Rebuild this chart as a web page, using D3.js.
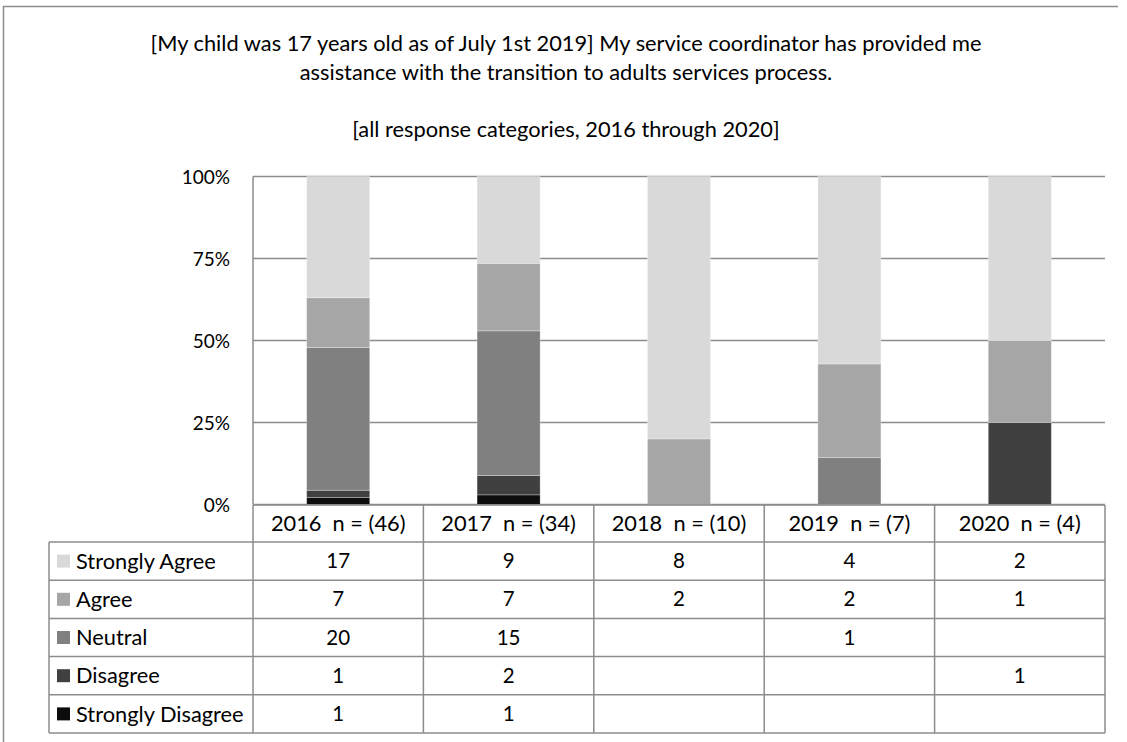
<!DOCTYPE html>
<html>
<head>
<meta charset="utf-8">
<script src="https://cdn.jsdelivr.net/npm/d3@7/dist/d3.min.js"></script>
<style>
  html, body { margin: 0; padding: 0; background: #fff; }
  svg text { font-family: Lato, "Noto Sans", sans-serif; fill: #000; white-space: pre; }
</style>
</head>
<body>
<svg id="chart" width="1127" height="742"></svg>
<script>
// Survey years and column headers
const years = ["2016", "2017", "2018", "2019", "2020"];
const headerLabels = ["2016  n = (46)", "2017  n = (34)", "2018  n = (10)", "2019  n = (7)", "2020  n = (4)"];

// Response categories, top of the stack first (table order)
const categories = ["Strongly Agree", "Agree", "Neutral", "Disagree", "Strongly Disagree"];
const categoryColors = ["#d9d9d9", "#a6a6a6", "#808080", "#404040", "#0d0d0d"];

// Response counts per year (null = no responses)
const stronglyAgree    = [17, 9, 8, 4, 2];
const agree            = [7, 7, 2, 2, 1];
const neutral          = [20, 15, null, 1, null];
const disagree         = [1, 2, null, null, 1];
const stronglyDisagree = [1, 1, null, null, null];

const yTicks = [0, 0.25, 0.5, 0.75, 1];

const titleLines = [
  "[My child was 17 years old as of July 1st 2019] My service coordinator has provided me",
  "assistance with the transition to adults services process.",
  "[all response categories, 2016 through 2020]"
];

const series = [stronglyAgree, agree, neutral, disagree, stronglyDisagree];

// Build rows for d3.stack
const rows = years.map((y, i) => {
  const r = { year: y };
  categories.forEach((c, k) => { r[c] = series[k][i] || 0; });
  r.total = d3.sum(categories, c => r[c]);
  return r;
});

const svg = d3.select("#chart");
const gridColor = "#8c8c8c";
const textSize = "21.8px";
const numSize = "20.5px";

// Outer chart frame (top and left edges)
svg.append("path")
  .attr("d", "M3.5,760 L3.5,6.5 L1118,6.5")
  .attr("fill", "none")
  .attr("stroke", "#8c8c8c")
  .attr("stroke-width", 1.5);

// Title
const title = svg.append("g").attr("text-anchor", "middle").style("font-size", textSize);
const titleBaselines = [51, 80, 137];
titleLines.forEach((t, i) => {
  title.append("text").attr("x", 566).attr("y", titleBaselines[i]).text(t);
});

// Plot area
const plot = { left: 253, right: 1105, top: 176.5, bottom: 504.5 };

const x = d3.scaleBand()
  .domain(years)
  .range([plot.left, plot.right])
  .paddingInner(0.63)
  .paddingOuter(0.315);

const y = d3.scaleLinear()
  .domain([0, 1])
  .range([plot.bottom, plot.top]);

// Horizontal gridlines
svg.append("g")
  .selectAll("line")
  .data(yTicks)
  .join("line")
  .attr("x1", plot.left).attr("x2", plot.right)
  .attr("y1", d => y(d)).attr("y2", d => y(d))
  .attr("stroke", gridColor)
  .attr("stroke-width", 1.5);

// Y axis labels
const yAxis = d3.axisLeft(y)
  .tickValues(yTicks)
  .tickFormat(d3.format(".0%"))
  .tickSize(0)
  .tickPadding(0);
const yAxisG = svg.append("g")
  .attr("transform", `translate(230,0)`)
  .call(yAxis);
yAxisG.select(".domain").remove();
yAxisG.selectAll("text")
  .style("font-family", "Lato, 'Noto Sans', sans-serif")
  .style("font-size", "19px")
  .attr("dy", "0.35em")
  .attr("fill", "#000");

// Stacked percentage bars (bottom: Strongly Disagree ... top: Strongly Agree)
const stackKeys = categories.slice().reverse();
const stack = d3.stack()
  .keys(stackKeys)
  .value((d, key) => d[key] / d.total);
const stacked = stack(rows);

svg.append("g")
  .selectAll("g")
  .data(stacked)
  .join("g")
  .attr("fill", d => categoryColors[categories.indexOf(d.key)])
  .selectAll("rect")
  .data(d => d.filter(s => s[1] - s[0] > 0))
  .join("rect")
  .attr("x", d => x(d.data.year))
  .attr("width", x.bandwidth())
  .attr("y", d => y(d[1]))
  .attr("height", d => y(d[0]) - y(d[1]))
  .attr("stroke", "#ffffff")
  .attr("stroke-opacity", 0.35)
  .attr("stroke-width", 0.8);

// Left axis line
svg.append("line")
  .attr("x1", plot.left).attr("x2", plot.left)
  .attr("y1", plot.top).attr("y2", plot.bottom)
  .attr("stroke", gridColor).attr("stroke-width", 1.5);

// Data table below the plot
const table = { legendLeft: 49, headerTop: 505, headerBottom: 542, rowH: 38.2 };
const rowTop = i => table.headerBottom + i * table.rowH;
const tableBottom = rowTop(categories.length);
const colEdges = years.map((yr, i) => plot.left + i * x.step());
colEdges.push(plot.right);

const tg = svg.append("g");
const lineAttrs = sel => sel.attr("stroke", gridColor).attr("stroke-width", 1.5);

// Header top line
tg.append("line").attr("x1", plot.left).attr("x2", plot.right)
  .attr("y1", table.headerTop).attr("y2", table.headerTop).call(lineAttrs);
// Row lines
d3.range(categories.length + 1).forEach(i => {
  tg.append("line").attr("x1", table.legendLeft).attr("x2", plot.right)
    .attr("y1", rowTop(i)).attr("y2", rowTop(i)).call(lineAttrs);
});
// Column lines
colEdges.forEach(cx => {
  tg.append("line").attr("x1", cx).attr("x2", cx)
    .attr("y1", table.headerTop).attr("y2", tableBottom).call(lineAttrs);
});
tg.append("line").attr("x1", table.legendLeft).attr("x2", table.legendLeft)
  .attr("y1", rowTop(0)).attr("y2", tableBottom).call(lineAttrs);

// Header labels
tg.selectAll("text.header")
  .data(headerLabels)
  .join("text")
  .attr("class", "header")
  .attr("x", (d, i) => x(years[i]) + x.bandwidth() / 2)
  .attr("y", (table.headerTop + table.headerBottom) / 2)
  .attr("dy", "0.35em")
  .attr("text-anchor", "middle")
  .style("font-size", textSize)
  .text(d => d);

// Legend keys + category names
categories.forEach((c, k) => {
  const cy = rowTop(k) + table.rowH / 2;
  tg.append("rect")
    .attr("x", 57).attr("y", cy - 6.5)
    .attr("width", 13).attr("height", 13)
    .attr("fill", categoryColors[k]);
  tg.append("text")
    .attr("x", 76).attr("y", cy).attr("dy", "0.35em")
    .style("font-size", textSize)
    .text(c);
  // Counts
  years.forEach((yr, i) => {
    const v = series[k][i];
    if (v == null) return;
    tg.append("text")
      .attr("x", x(yr) + x.bandwidth() / 2)
      .attr("y", cy).attr("dy", "0.35em")
      .attr("text-anchor", "middle")
      .style("font-size", numSize)
      .text(v);
  });
});
</script>
</body>
</html>
